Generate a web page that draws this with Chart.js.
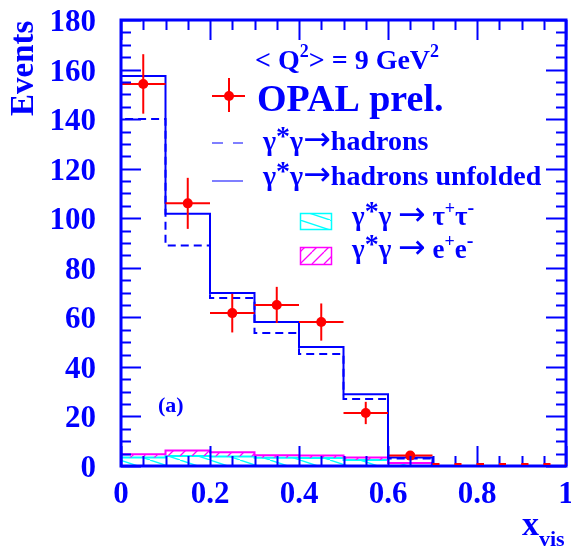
<!DOCTYPE html>
<html><head><meta charset="utf-8">
<script src="https://cdn.jsdelivr.net/npm/chart.js@4"></script>
<style>html,body{margin:0;padding:0;background:#fff;overflow:hidden}canvas{display:block}</style>
</head><body>
<canvas id="c" width="571" height="548"></canvas>
<script>
// ---------- data ----------
const binEdges = [0, 0.1, 0.2, 0.3, 0.4, 0.5, 0.6, 0.7, 0.8, 0.9, 1.0];
const hadronsMC = [140, 89, 67.8, 53.7, 45.2, 27, 3.0, 0, 0, 0];
const hadronsUnfolded = [157.4, 101.8, 69.8, 58.1, 48, 29, 3.4, 0, 0, 0];
const tauTau = [3.4, 4.0, 3.8, 3.3, 3.2, 2.4, 1.2, 0, 0, 0];
const eeStacked = [4.7, 6.3, 5.5, 4.3, 4.2, 3.4, 1.2, 0, 0, 0];
const dataX = [0.05, 0.15, 0.25, 0.35, 0.45, 0.55, 0.65, 0.75, 0.85, 0.95];
const dataY = [154.2, 106, 61.7, 65, 58.1, 21.4, 4.2, 0, 0, 0];
const dataErr = [12, 10.3, 7.8, 7.3, 7.5, 4.5, 1.5, 0, 0, 0];
const xTicks = [0, 0.2, 0.4, 0.6, 0.8, 1];
const yTicks = [0, 20, 40, 60, 80, 100, 120, 140, 160, 180];

const BLUE = '#0000ff', RED = '#ff0000', CYAN = '#00ffff', MAGENTA = '#ff00ff';
const FONT = '"Liberation Serif","Times New Roman",serif';
const ARROWFONT = '"DejaVu Sans",sans-serif';

function histPoints(vals) {
  const last = binEdges[binEdges.length - 1];
  const pts = [{x: binEdges[0], y: 0}];
  vals.forEach((v, i) => pts.push({x: binEdges[i], y: v}));
  pts.push({x: last, y: vals[vals.length - 1]});
  pts.push({x: last, y: 0});
  return pts;
}

const ctx = document.getElementById('c').getContext('2d');
function makePattern(color, w, h, dir) {
  const c = document.createElement('canvas');
  c.width = w; c.height = h;
  const g = c.getContext('2d');
  g.strokeStyle = color; g.lineWidth = 1.3;
  g.beginPath();
  for (let k = -1; k <= 1; k++) {
    if (dir === 'down') { g.moveTo(k * w, 0); g.lineTo(k * w + w, h); }
    else { g.moveTo(k * w, h); g.lineTo(k * w + w, 0); }
  }
  g.stroke();
  return ctx.createPattern(c, 'repeat');
}
const cyanPat = makePattern(CYAN, 30, 10, 'down');
const magPat = makePattern(MAGENTA, 12, 12, 'up');

function rich(c, x, y, parts) {
  let cx = x;
  for (const p of parts) {
    c.font = (p.w || 'bold') + ` ${p.s}px ` + (p.f || FONT);
    c.fillText(p.t, cx, y - (p.dy || 0));
    cx += c.measureText(p.t).width + (p.gap || 0);
  }
  return cx;
}
const ARROW = (s, dy) => ({t: '→', s, f: ARROWFONT, w: 'normal', dy: dy || 0});

const deco = {
  id: 'deco',
  afterDatasetsDraw(chart) {
    const c = chart.ctx, xs = chart.scales.x, ys = chart.scales.y;
    c.save();
    c.strokeStyle = RED; c.lineWidth = 2;
    dataX.forEach((x, i) => {
      if (!(dataY[i] > 0)) return;
      const px = xs.getPixelForValue(x), py = ys.getPixelForValue(dataY[i]);
      const x0 = xs.getPixelForValue(x - 0.05), x1 = xs.getPixelForValue(x + 0.05);
      c.beginPath(); c.moveTo(x0, py); c.lineTo(x1, py); c.stroke();
      if (dataErr[i] > 0) {
        c.beginPath();
        c.moveTo(px, ys.getPixelForValue(dataY[i] + dataErr[i]));
        c.lineTo(px, ys.getPixelForValue(dataY[i] - dataErr[i]));
        c.stroke();
      }
    });
    c.restore();
  },
  afterDraw(chart) {
    const c = chart.ctx, a = chart.chartArea, xs = chart.scales.x, ys = chart.scales.y;
    c.save();
    // frame and ticks
    c.strokeStyle = BLUE; c.lineWidth = 2;
    c.beginPath();
    for (let v = 0; v <= 180.001; v += 5) {
      const py = Math.round(ys.getPixelForValue(v)) + 0.5;
      const len = (Math.abs(v % 20) < 1e-6) ? 20 : 10;
      c.moveTo(a.left, py); c.lineTo(a.left + len, py);
      c.moveTo(a.right, py); c.lineTo(a.right - len, py);
    }
    for (let k = 0; k <= 20; k++) {
      const v = k * 0.05;
      const px = Math.round(xs.getPixelForValue(v)) + 0.5;
      const len = (k % 4 === 0) ? 20 : 10;
      c.moveTo(px, a.bottom); c.lineTo(px, a.bottom - len);
      c.moveTo(px, a.top); c.lineTo(px, a.top + len);
    }
    c.stroke();
    c.lineWidth = 3;
    c.strokeRect(a.left, a.top, a.right - a.left, a.bottom - a.top);

    // empty bins: dashed red bars just above the bottom frame
    c.strokeStyle = RED; c.lineWidth = 2; c.setLineDash([7, 15]);
    dataX.forEach((x, i) => {
      if (dataY[i] > 0) return;
      const py = ys.getPixelForValue(dataY[i]) - 2;
      c.beginPath();
      c.moveTo(xs.getPixelForValue(x - 0.05), py);
      c.lineTo(xs.getPixelForValue(x + 0.05), py);
      c.stroke();
    });
    c.setLineDash([]);

    // texts
    c.fillStyle = BLUE; c.textBaseline = 'alphabetic'; c.textAlign = 'left';
    rich(c, 255, 69, [{t: '< Q', s: 28}, {t: '2', s: 18, dy: 12}, {t: '> = 9 GeV', s: 28}, {t: '2', s: 18, dy: 12}]);
    rich(c, 257, 111, [{t: 'OPAL prel.', s: 38}]);
    rich(c, 263, 150, [{t: 'γ', s: 28}, {t: '*', s: 28, dy: 5}, {t: 'γ', s: 28}, ARROW(33, 0), {t: 'hadrons', s: 28}]);
    rich(c, 263, 185, [{t: 'γ', s: 28}, {t: '*', s: 28, dy: 5}, {t: 'γ', s: 28}, ARROW(33, 0), {t: 'hadrons unfolded', s: 28}]);
    rich(c, 352, 225, [{t: 'γ', s: 27}, {t: '*', s: 28, dy: 5}, {t: 'γ ', s: 27}, ARROW(33, 0), {t: ' τ', s: 27}, {t: '+', s: 18, dy: 11}, {t: 'τ', s: 27}, {t: '-', s: 20, dy: 11}]);
    rich(c, 352, 258, [{t: 'γ', s: 27}, {t: '*', s: 28, dy: 5}, {t: 'γ ', s: 27}, ARROW(33, 0), {t: ' e', s: 27}, {t: '+', s: 18, dy: 11}, {t: 'e', s: 27}, {t: '-', s: 20, dy: 11}]);
    rich(c, 158, 412, [{t: '(a)', s: 22}]);
    // x title
    rich(c, 522, 535, [{t: 'x', s: 34}, {t: 'vis', s: 22, dy: -11}]);
    // y title
    c.save();
    c.translate(33, 116); c.rotate(-Math.PI / 2);
    c.font = `bold 33px ${FONT}`;
    c.fillText('Events', 0, 0);
    c.restore();

    // legend samples
    c.strokeStyle = RED; c.lineWidth = 2;
    c.beginPath(); c.moveTo(212, 96); c.lineTo(245, 96); c.moveTo(229, 78); c.lineTo(229, 112); c.stroke();
    c.fillStyle = RED; c.beginPath(); c.arc(229, 96, 5, 0, Math.PI * 2); c.fill();
    c.strokeStyle = '#5555ff'; c.lineWidth = 1.5;
    c.setLineDash([11, 10]);
    c.beginPath(); c.moveTo(212, 143); c.lineTo(243, 143); c.stroke();
    c.setLineDash([]);
    c.beginPath(); c.moveTo(212, 181); c.lineTo(243, 181); c.stroke();
    // hatched boxes
    c.fillStyle = cyanPat; c.fillRect(300, 213, 32, 17);
    c.strokeStyle = CYAN; c.lineWidth = 1.5; c.strokeRect(300.5, 213.5, 31, 16);
    c.fillStyle = magPat; c.fillRect(300, 247, 32, 18);
    c.strokeStyle = MAGENTA; c.strokeRect(300.5, 247.5, 31, 17);
    c.restore();
  }
};

const tickFont = {family: FONT, size: 31, weight: 'bold'};
new Chart(ctx, {
  type: 'scatter',
  data: {
    datasets: [
      {label: 'OPAL prel.', data: dataX.map((x, i) => ({x, y: dataY[i]})),
       pointRadius: dataY.map(v => v > 0 ? 5 : 0), pointHoverRadius: 0, backgroundColor: RED, borderColor: RED, borderWidth: 0, showLine: false, order: 0},
      {label: 'γ*γ→hadrons unfolded', type: 'line', data: histPoints(hadronsUnfolded), stepped: true,
       borderColor: BLUE, borderWidth: 2, pointRadius: 0, fill: false, order: 1},
      {label: 'γ*γ→hadrons', type: 'line', data: histPoints(hadronsMC), stepped: true,
       borderColor: BLUE, borderWidth: 2, borderDash: [8, 5], pointRadius: 0, fill: false, order: 2},
      {label: 'γ*γ → τ+τ-', type: 'line', data: histPoints(tauTau), stepped: true,
       borderColor: CYAN, borderWidth: 2, pointRadius: 0, fill: 'origin', backgroundColor: cyanPat, order: 4},
      {label: 'γ*γ → e+e-', type: 'line', data: histPoints(eeStacked), stepped: true,
       borderColor: MAGENTA, borderWidth: 2, pointRadius: 0, fill: '-1', backgroundColor: magPat, order: 3}
    ]
  },
  options: {
    responsive: false, animation: false, events: [], devicePixelRatio: 1,
    layout: {padding: {top: 20, right: 5, left: 0, bottom: 0}},
    plugins: {legend: {display: false}, tooltip: {enabled: false}, filler: {propagate: false}},
    scales: {
      x: {type: 'linear', min: 0, max: 1,
          afterBuildTicks(s) { s.ticks = xTicks.map(v => ({value: v})); },
          ticks: {color: BLUE, font: tickFont, padding: 10, maxRotation: 0, autoSkip: false,
                  callback: v => String(v)},
          grid: {display: false, drawTicks: false}, border: {display: false},
          afterFit(s) { s.height = 82; s.paddingLeft = 0; s.paddingRight = 0; }},
      y: {type: 'linear', min: 0, max: 180,
          afterBuildTicks(s) { s.ticks = yTicks.map(v => ({value: v})); },
          ticks: {color: BLUE, font: tickFont, padding: 25, autoSkip: false, labelOffset: 3},
          grid: {display: false, drawTicks: false}, border: {display: false},
          afterFit(s) { s.width = 121; s.paddingTop = 0; s.paddingBottom = 0; }}
    }
  },
  plugins: [deco]
});
</script>
</body></html>
